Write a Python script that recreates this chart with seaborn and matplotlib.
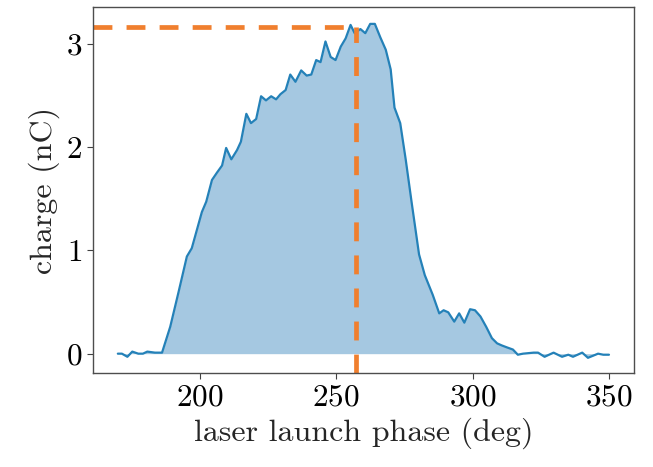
import numpy as np
import pandas as pd
import matplotlib
matplotlib.use("Agg")
import matplotlib.pyplot as plt
import seaborn as sns

phase = [170.0, 171.5, 173.5, 175.3, 177.5, 179.2, 180.8, 183.6, 186.2, 189.2,
         192.2, 195.3, 197.1, 200.8, 202.4, 204.5, 206.3, 208.2, 209.7, 211.6,
         213.7, 215.1, 217.1, 218.8, 220.7, 222.5, 224.3, 226.2, 228.0, 229.6,
         231.5, 233.2, 235.1, 237.2, 239.2, 240.9, 242.7, 244.3, 246.1, 248.0,
         249.8, 251.7, 253.5, 255.3, 256.8, 258.9, 260.7, 262.5, 264.2, 266.2,
         268.2, 270.0, 271.4, 273.5, 275.5, 277.7, 280.4, 282.5, 285.4, 287.8,
         289.4, 291.1, 293.3, 295.1, 297.0, 299.1, 300.9, 302.9, 305.0, 307.1,
         309.0, 310.7, 312.7, 314.8, 316.6, 318.5, 322.4, 324.0, 326.4, 329.7,
         332.8, 335.1, 336.8, 340.2, 342.3, 346.0, 347.9, 350.0]
charge = [0.00, 0.00, -0.03, 0.02, 0.00, 0.00, 0.02, 0.01, 0.01, 0.26,
          0.59, 0.94, 1.02, 1.37, 1.47, 1.68, 1.75, 1.82, 1.99, 1.88,
          1.97, 2.05, 2.32, 2.23, 2.27, 2.49, 2.45, 2.49, 2.46, 2.51,
          2.55, 2.70, 2.63, 2.74, 2.69, 2.70, 2.84, 2.82, 3.02, 2.87,
          2.84, 2.97, 3.05, 3.18, 3.10, 3.14, 3.10, 3.19, 3.19, 3.06,
          2.94, 2.75, 2.38, 2.23, 1.88, 1.46, 0.96, 0.76, 0.57, 0.39,
          0.42, 0.40, 0.31, 0.39, 0.30, 0.43, 0.42, 0.36, 0.26, 0.15,
          0.10, 0.08, 0.06, 0.04, -0.01, 0.00, 0.01, 0.01, -0.03, 0.01,
          -0.03, -0.01, -0.03, 0.01, -0.04, 0.00, -0.01, -0.01]

marker_phase = 257.2
marker_charge = 3.156

xticks = [200, 250, 300, 350]
yticks = [0, 1, 2, 3]

df = pd.DataFrame({"phase": phase, "charge": charge})

sns.set_style("ticks")
plt.rcParams["font.family"] = ["cmr10", "DejaVu Serif"]
plt.rcParams["axes.formatter.use_mathtext"] = True
plt.rcParams["mathtext.fontset"] = "cm"

fig = plt.figure(figsize=(6.53, 4.67), dpi=100)
ax = fig.add_axes([0.142, 0.2006, 0.829, 0.785])

blue = "#2481b8"
orange = "#f07f2e"

sns.lineplot(data=df, x="phase", y="charge", ax=ax, color=blue, linewidth=1.6)
ax.fill_between(df["phase"], df["charge"], 0, color="#1f77b4", alpha=0.4, linewidth=0)

ax.set_xlim(160.8, 359.2)
ax.set_ylim(-0.19, 3.356)

ax.hlines(marker_charge, 160.8, marker_phase, colors=orange, linewidth=3.4,
          linestyles=(0, (4, 3)), clip_on=False)
ax.vlines(marker_phase, -0.19, marker_charge, colors=orange, linewidth=3.4,
          linestyles=(0, (4, 3)), clip_on=False)

ax.set_xticks(xticks)
ax.set_yticks(yticks)
ax.tick_params(labelsize=22.5, length=4, width=0.8, colors="0.25", labelcolor="black")
for s in ax.spines.values():
    s.set_color("0.3")
    s.set_linewidth(1.0)

ax.set_xlabel("laser launch phase (deg)", fontsize=23)
ax.set_ylabel("charge (nC)", fontsize=23)

fig.savefig("out.png", dpi=100)
